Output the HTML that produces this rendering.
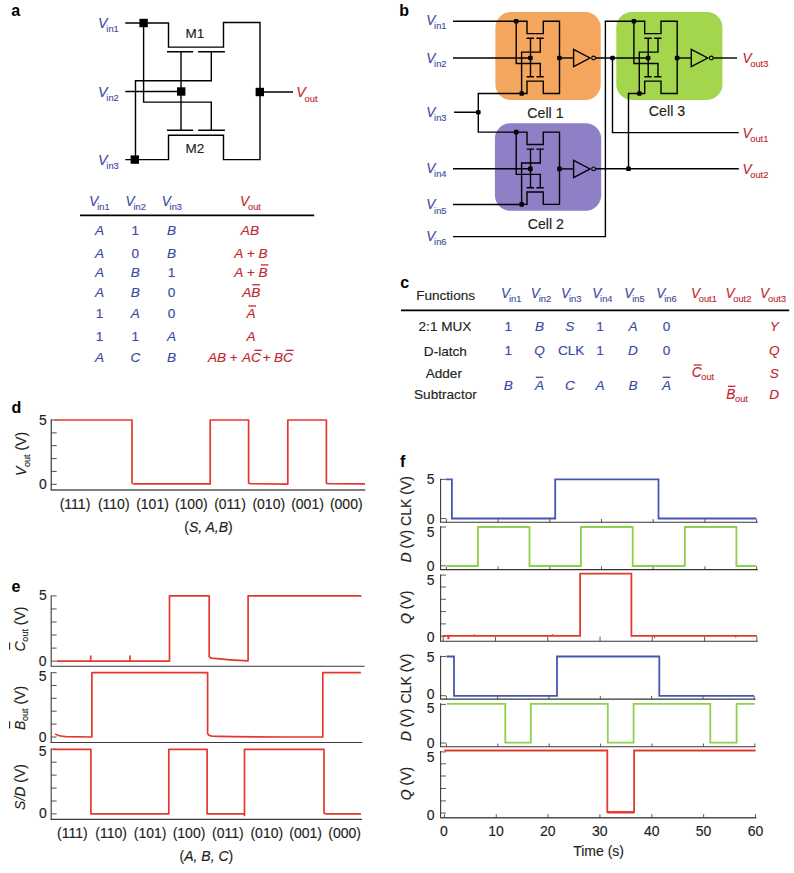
<!DOCTYPE html>
<html lang="en">
<head>
<meta charset="utf-8">
<title>Figure</title>
<style>
html,body{margin:0;padding:0;background:#fff;}
body{width:794px;height:873px;overflow:hidden;}
svg{display:block;font-family:"Liberation Sans",Arial,Helvetica,sans-serif;}
</style>
</head>
<body>
<svg width="794" height="873" viewBox="0 0 794 873">
<rect x="0" y="0" width="794" height="873" fill="#ffffff"/>
<text x="11.2" y="16.3" fill="#000" font-size="16" font-weight="bold">a</text>
<text x="399.3" y="15.6" fill="#000" font-size="16" font-weight="bold">b</text>
<text x="400.2" y="288.3" fill="#000" font-size="16" font-weight="bold">c</text>
<text x="11.4" y="413.2" fill="#000" font-size="16" font-weight="bold">d</text>
<text x="11.4" y="591.5" fill="#000" font-size="16" font-weight="bold">e</text>
<text x="400.0" y="467.2" fill="#000" font-size="16" font-weight="bold">f</text>
<path d="M125.3,23 H168.5 V47.1 H223.5 V22.5 H260 V159.6 H223.5 V135.2 H168.5 V159.6 H125.3" stroke="#000" stroke-width="1.4" fill="none"/>
<path d="M167,51.7 H193.2 M198.1,51.7 H224.9 M167,130.3 H193.2 M198.1,130.3 H224.9" stroke="#000" stroke-width="1.4" fill="none"/>
<path d="M181,51.7 V130.3" stroke="#000" stroke-width="1.4" fill="none"/>
<path d="M211.3,51.7 V80.7 H135.5 V159.6" stroke="#000" stroke-width="1.4" fill="none"/>
<path d="M143.6,23 V102.1 H211.3 V130.3" stroke="#000" stroke-width="1.4" fill="none"/>
<path d="M125.3,91.5 H181 M260,92 H293" stroke="#000" stroke-width="1.4" fill="none"/>
<rect x="139.40" y="18.80" width="8.4" height="8.4" fill="#000"/>
<rect x="177.00" y="87.30" width="8.4" height="8.4" fill="#000"/>
<rect x="130.60" y="155.40" width="8.4" height="8.4" fill="#000"/>
<rect x="255.60" y="87.80" width="8.4" height="8.4" fill="#000"/>
<text transform="translate(98.0,27.9) scale(0.92,1)" fill="#3b4a9f" stroke="#3b4a9f" stroke-width="0.15" font-size="15.48" font-style="italic">V</text>
<text x="106.30" y="32.20" fill="#3b4a9f" stroke="#3b4a9f" stroke-width="0.12" font-size="9.4">in1</text>
<text transform="translate(98.0,96.5) scale(0.92,1)" fill="#3b4a9f" stroke="#3b4a9f" stroke-width="0.15" font-size="15.48" font-style="italic">V</text>
<text x="106.30" y="100.80" fill="#3b4a9f" stroke="#3b4a9f" stroke-width="0.12" font-size="9.4">in2</text>
<text transform="translate(98.0,165.0) scale(0.92,1)" fill="#3b4a9f" stroke="#3b4a9f" stroke-width="0.15" font-size="15.48" font-style="italic">V</text>
<text x="106.30" y="169.30" fill="#3b4a9f" stroke="#3b4a9f" stroke-width="0.12" font-size="9.4">in3</text>
<text transform="translate(296.2,97.3) scale(0.92,1)" fill="#c1272d" stroke="#c1272d" stroke-width="0.15" font-size="15.48" font-style="italic">V</text>
<text x="304.50" y="101.60" fill="#c1272d" stroke="#c1272d" stroke-width="0.12" font-size="9.4">out</text>
<text x="194.9" y="37.6" fill="#231f20" stroke="#231f20" stroke-width="0.15" font-size="13.5" text-anchor="middle">M1</text>
<text x="194.9" y="152.9" fill="#231f20" stroke="#231f20" stroke-width="0.15" font-size="13.5" text-anchor="middle">M2</text>
<text transform="translate(89.3,206.1) scale(0.92,1)" fill="#3b4a9f" stroke="#3b4a9f" stroke-width="0.15" font-size="14.82" font-style="italic">V</text>
<text x="97.19" y="210.40" fill="#3b4a9f" stroke="#3b4a9f" stroke-width="0.12" font-size="9.3">in1</text>
<text transform="translate(125.6,206.1) scale(0.92,1)" fill="#3b4a9f" stroke="#3b4a9f" stroke-width="0.15" font-size="14.82" font-style="italic">V</text>
<text x="133.49" y="210.40" fill="#3b4a9f" stroke="#3b4a9f" stroke-width="0.12" font-size="9.3">in2</text>
<text transform="translate(161.7,206.1) scale(0.92,1)" fill="#3b4a9f" stroke="#3b4a9f" stroke-width="0.15" font-size="14.82" font-style="italic">V</text>
<text x="169.59" y="210.40" fill="#3b4a9f" stroke="#3b4a9f" stroke-width="0.12" font-size="9.3">in3</text>
<text transform="translate(240.1,206.1) scale(0.92,1)" fill="#c1272d" stroke="#c1272d" stroke-width="0.15" font-size="14.82" font-style="italic">V</text>
<text x="247.99" y="210.40" fill="#c1272d" stroke="#c1272d" stroke-width="0.12" font-size="9.3">out</text>
<path d="M80,215.3 H314.2" stroke="#000" stroke-width="1.7" fill="none"/>
<text x="99.6" y="235" fill="#3b4a9f" stroke="#3b4a9f" stroke-width="0.15" font-size="13.6" font-style="italic" text-anchor="middle">A</text>
<text x="135.4" y="235" fill="#3b4a9f" stroke="#3b4a9f" stroke-width="0.15" font-size="13.6" text-anchor="middle">1</text>
<text x="171.6" y="235" fill="#3b4a9f" stroke="#3b4a9f" stroke-width="0.15" font-size="13.6" font-style="italic" text-anchor="middle">B</text>
<text x="99.6" y="257.5" fill="#3b4a9f" stroke="#3b4a9f" stroke-width="0.15" font-size="13.6" font-style="italic" text-anchor="middle">A</text>
<text x="135.4" y="257.5" fill="#3b4a9f" stroke="#3b4a9f" stroke-width="0.15" font-size="13.6" text-anchor="middle">0</text>
<text x="171.6" y="257.5" fill="#3b4a9f" stroke="#3b4a9f" stroke-width="0.15" font-size="13.6" font-style="italic" text-anchor="middle">B</text>
<text x="99.6" y="277.1" fill="#3b4a9f" stroke="#3b4a9f" stroke-width="0.15" font-size="13.6" font-style="italic" text-anchor="middle">A</text>
<text x="135.4" y="277.1" fill="#3b4a9f" stroke="#3b4a9f" stroke-width="0.15" font-size="13.6" font-style="italic" text-anchor="middle">B</text>
<text x="171.6" y="277.1" fill="#3b4a9f" stroke="#3b4a9f" stroke-width="0.15" font-size="13.6" text-anchor="middle">1</text>
<text x="99.6" y="297" fill="#3b4a9f" stroke="#3b4a9f" stroke-width="0.15" font-size="13.6" font-style="italic" text-anchor="middle">A</text>
<text x="135.4" y="297" fill="#3b4a9f" stroke="#3b4a9f" stroke-width="0.15" font-size="13.6" font-style="italic" text-anchor="middle">B</text>
<text x="171.6" y="297" fill="#3b4a9f" stroke="#3b4a9f" stroke-width="0.15" font-size="13.6" text-anchor="middle">0</text>
<text x="99.6" y="317.6" fill="#3b4a9f" stroke="#3b4a9f" stroke-width="0.15" font-size="13.6" text-anchor="middle">1</text>
<text x="135.4" y="317.6" fill="#3b4a9f" stroke="#3b4a9f" stroke-width="0.15" font-size="13.6" font-style="italic" text-anchor="middle">A</text>
<text x="171.6" y="317.6" fill="#3b4a9f" stroke="#3b4a9f" stroke-width="0.15" font-size="13.6" text-anchor="middle">0</text>
<text x="99.6" y="341.1" fill="#3b4a9f" stroke="#3b4a9f" stroke-width="0.15" font-size="13.6" text-anchor="middle">1</text>
<text x="135.4" y="341.1" fill="#3b4a9f" stroke="#3b4a9f" stroke-width="0.15" font-size="13.6" text-anchor="middle">1</text>
<text x="171.6" y="341.1" fill="#3b4a9f" stroke="#3b4a9f" stroke-width="0.15" font-size="13.6" font-style="italic" text-anchor="middle">A</text>
<text x="99.6" y="362.1" fill="#3b4a9f" stroke="#3b4a9f" stroke-width="0.15" font-size="13.6" font-style="italic" text-anchor="middle">A</text>
<text x="135.4" y="362.1" fill="#3b4a9f" stroke="#3b4a9f" stroke-width="0.15" font-size="13.6" font-style="italic" text-anchor="middle">C</text>
<text x="171.6" y="362.1" fill="#3b4a9f" stroke="#3b4a9f" stroke-width="0.15" font-size="13.6" font-style="italic" text-anchor="middle">B</text>
<text x="249.9" y="235" fill="#c1272d" stroke="#c1272d" stroke-width="0.15" font-size="13.6" font-style="italic" text-anchor="middle">AB</text>
<text x="250.9" y="257.5" fill="#c1272d" stroke="#c1272d" stroke-width="0.15" font-size="13.6" font-style="italic" text-anchor="middle">A + B</text>
<text x="250.9" y="277.1" fill="#c1272d" stroke="#c1272d" stroke-width="0.15" font-size="13.6" font-style="italic" text-anchor="middle">A + B</text>
<path d="M260.9,264.9 H268.4" stroke="#c1272d" stroke-width="1.3" fill="none"/>
<text x="251.2" y="297" fill="#c1272d" stroke="#c1272d" stroke-width="0.15" font-size="13.6" font-style="italic" text-anchor="middle">AB</text>
<text x="251.1" y="317.6" fill="#c1272d" stroke="#c1272d" stroke-width="0.15" font-size="13.6" font-style="italic" text-anchor="middle">A</text>
<text x="251.0" y="341.1" fill="#c1272d" stroke="#c1272d" stroke-width="0.15" font-size="13.6" font-style="italic" text-anchor="middle">A</text>
<text y="362.1" fill="#c1272d" stroke="#c1272d" stroke-width="0.15" font-size="13.6" font-style="italic"><tspan x="207.9">AB</tspan><tspan x="229.6">+</tspan><tspan x="241.9">AC</tspan><tspan x="262.4">+</tspan><tspan x="274.0">BC</tspan></text>
<path d="M254.4,350.3 H261.9" stroke="#c1272d" stroke-width="1.3" fill="none"/>
<path d="M285.9,350.3 H293.6" stroke="#c1272d" stroke-width="1.3" fill="none"/>
<path d="M252.3,284.8 H260.0" stroke="#c1272d" stroke-width="1.3" fill="none"/>
<path d="M248.4,306.0 H255.9" stroke="#c1272d" stroke-width="1.3" fill="none"/>
<rect x="495.4" y="12.1" width="105.3" height="88.0" rx="15.5" ry="15.5" fill="#f5a65e"/>
<rect x="616.3" y="12.0" width="106.1" height="87.9" rx="15.5" ry="15.5" fill="#a3d54d"/>
<rect x="494.9" y="123.3" width="106.3" height="87.5" rx="15.5" ry="15.5" fill="#8f7fc6"/>
<g transform="translate(0,0)">
<path d="M516.2,21.2 H527 V33.6 H543.3 V21.2 H559.5 V93.5 H543.3 V81.1 H527 V93.5 H521.6" stroke="#000" stroke-width="1.4" fill="none"/>
<path d="M526.6,38.2 H534 M536.4,38.2 H543.8 M526.6,76.8 H534 M536.4,76.8 H543.8" stroke="#000" stroke-width="1.4" fill="none"/>
<path d="M530.5,38.2 V76.8" stroke="#000" stroke-width="1.4" fill="none"/>
<path d="M540.3,38.2 V52.1 H521.6 V93.5" stroke="#000" stroke-width="1.4" fill="none"/>
<path d="M516.2,21.2 V63.5 H540.3 V76.8" stroke="#000" stroke-width="1.4" fill="none"/>
<path d="M559.5,58 H573.6" stroke="#000" stroke-width="1.4" fill="none"/>
<path d="M573.6,49.4 V66.6 L590,58 Z" stroke="#000" stroke-width="1.4" fill="none"/>
<circle cx="593.6" cy="58" r="1.9" fill="none" stroke="#000" stroke-width="1.1"/>
<rect x="513.90" y="18.90" width="4.6" height="4.6" rx="1.2" fill="#000"/>
<rect x="528.10" y="55.70" width="4.6" height="4.6" rx="1.2" fill="#000"/>
<rect x="557.10" y="55.70" width="4.6" height="4.6" rx="1.2" fill="#000"/>
<rect x="519.40" y="91.20" width="4.6" height="4.6" rx="1.2" fill="#000"/>
</g>
<g transform="translate(117.7,0)">
<path d="M516.2,21.2 H527 V33.6 H543.3 V21.2 H559.5 V93.5 H543.3 V81.1 H527 V93.5 H521.6" stroke="#000" stroke-width="1.4" fill="none"/>
<path d="M526.6,38.2 H534 M536.4,38.2 H543.8 M526.6,76.8 H534 M536.4,76.8 H543.8" stroke="#000" stroke-width="1.4" fill="none"/>
<path d="M530.5,38.2 V76.8" stroke="#000" stroke-width="1.4" fill="none"/>
<path d="M540.3,38.2 V52.1 H521.6 V93.5" stroke="#000" stroke-width="1.4" fill="none"/>
<path d="M516.2,21.2 V63.5 H540.3 V76.8" stroke="#000" stroke-width="1.4" fill="none"/>
<path d="M559.5,58 H573.6" stroke="#000" stroke-width="1.4" fill="none"/>
<path d="M573.6,49.4 V66.6 L590,58 Z" stroke="#000" stroke-width="1.4" fill="none"/>
<circle cx="593.6" cy="58" r="1.9" fill="none" stroke="#000" stroke-width="1.1"/>
<rect x="513.90" y="18.90" width="4.6" height="4.6" rx="1.2" fill="#000"/>
<rect x="528.10" y="55.70" width="4.6" height="4.6" rx="1.2" fill="#000"/>
<rect x="557.10" y="55.70" width="4.6" height="4.6" rx="1.2" fill="#000"/>
<rect x="519.40" y="91.20" width="4.6" height="4.6" rx="1.2" fill="#000"/>
</g>
<g transform="translate(0,110.9)">
<path d="M516.2,21.2 H527 V33.6 H543.3 V21.2 H559.5 V93.5 H543.3 V81.1 H527 V93.5 H521.6" stroke="#000" stroke-width="1.4" fill="none"/>
<path d="M526.6,38.2 H534 M536.4,38.2 H543.8 M526.6,76.8 H534 M536.4,76.8 H543.8" stroke="#000" stroke-width="1.4" fill="none"/>
<path d="M530.5,38.2 V76.8" stroke="#000" stroke-width="1.4" fill="none"/>
<path d="M540.3,38.2 V52.1 H521.6 V93.5" stroke="#000" stroke-width="1.4" fill="none"/>
<path d="M516.2,21.2 V63.5 H540.3 V76.8" stroke="#000" stroke-width="1.4" fill="none"/>
<path d="M559.5,58 H573.6" stroke="#000" stroke-width="1.4" fill="none"/>
<path d="M573.6,49.4 V66.6 L590,58 Z" stroke="#000" stroke-width="1.4" fill="none"/>
<circle cx="593.6" cy="58" r="1.9" fill="none" stroke="#000" stroke-width="1.1"/>
<rect x="513.90" y="18.90" width="4.6" height="4.6" rx="1.2" fill="#000"/>
<rect x="528.10" y="55.70" width="4.6" height="4.6" rx="1.2" fill="#000"/>
<rect x="557.10" y="55.70" width="4.6" height="4.6" rx="1.2" fill="#000"/>
<rect x="519.40" y="91.20" width="4.6" height="4.6" rx="1.2" fill="#000"/>
</g>
<path d="M453,21.3 H516.2" stroke="#000" stroke-width="1.4" fill="none"/>
<path d="M453,58 H530.4" stroke="#000" stroke-width="1.4" fill="none"/>
<path d="M454,112.2 H478.3 M521.6,93.5 H478.3 V132.1 H516.2" stroke="#000" stroke-width="1.4" fill="none"/>
<path d="M453,168.8 H530.4" stroke="#000" stroke-width="1.4" fill="none"/>
<path d="M453,204.5 H521.6" stroke="#000" stroke-width="1.4" fill="none"/>
<path d="M453,236.6 H605.4 V21.3 H634" stroke="#000" stroke-width="1.4" fill="none"/>
<path d="M595.5,58 H648.1" stroke="#000" stroke-width="1.4" fill="none"/>
<path d="M612.5,58 V132.6 H738.8" stroke="#000" stroke-width="1.4" fill="none"/>
<path d="M595.5,168.8 H738.8" stroke="#000" stroke-width="1.4" fill="none"/>
<path d="M639.3,93.5 H628.5 V168.8" stroke="#000" stroke-width="1.4" fill="none"/>
<path d="M713.2,58 H737" stroke="#000" stroke-width="1.4" fill="none"/>
<rect x="476.00" y="109.90" width="4.6" height="4.6" rx="1.2" fill="#000"/>
<rect x="610.20" y="55.70" width="4.6" height="4.6" rx="1.2" fill="#000"/>
<rect x="626.20" y="166.50" width="4.6" height="4.6" rx="1.2" fill="#000"/>
<text transform="translate(426.2,24.8) scale(0.92,1)" fill="#3b4a9f" stroke="#3b4a9f" stroke-width="0.15" font-size="14.82" font-style="italic">V</text>
<text x="434.09" y="29.10" fill="#3b4a9f" stroke="#3b4a9f" stroke-width="0.12" font-size="9.3">in1</text>
<text transform="translate(426.2,62.6) scale(0.92,1)" fill="#3b4a9f" stroke="#3b4a9f" stroke-width="0.15" font-size="14.82" font-style="italic">V</text>
<text x="434.09" y="66.90" fill="#3b4a9f" stroke="#3b4a9f" stroke-width="0.12" font-size="9.3">in2</text>
<text transform="translate(426.2,116.8) scale(0.92,1)" fill="#3b4a9f" stroke="#3b4a9f" stroke-width="0.15" font-size="14.82" font-style="italic">V</text>
<text x="434.09" y="121.10" fill="#3b4a9f" stroke="#3b4a9f" stroke-width="0.12" font-size="9.3">in3</text>
<text transform="translate(426.2,172.8) scale(0.92,1)" fill="#3b4a9f" stroke="#3b4a9f" stroke-width="0.15" font-size="14.82" font-style="italic">V</text>
<text x="434.09" y="177.10" fill="#3b4a9f" stroke="#3b4a9f" stroke-width="0.12" font-size="9.3">in4</text>
<text transform="translate(426.2,209.2) scale(0.92,1)" fill="#3b4a9f" stroke="#3b4a9f" stroke-width="0.15" font-size="14.82" font-style="italic">V</text>
<text x="434.09" y="213.50" fill="#3b4a9f" stroke="#3b4a9f" stroke-width="0.12" font-size="9.3">in5</text>
<text transform="translate(426.2,240.8) scale(0.92,1)" fill="#3b4a9f" stroke="#3b4a9f" stroke-width="0.15" font-size="14.82" font-style="italic">V</text>
<text x="434.09" y="245.10" fill="#3b4a9f" stroke="#3b4a9f" stroke-width="0.12" font-size="9.3">in6</text>
<text transform="translate(742.4,63.0) scale(0.92,1)" fill="#c1272d" stroke="#c1272d" stroke-width="0.15" font-size="14.82" font-style="italic">V</text>
<text x="750.29" y="67.30" fill="#c1272d" stroke="#c1272d" stroke-width="0.12" font-size="9.3">out3</text>
<text transform="translate(742.4,137.6) scale(0.92,1)" fill="#c1272d" stroke="#c1272d" stroke-width="0.15" font-size="14.82" font-style="italic">V</text>
<text x="750.29" y="141.90" fill="#c1272d" stroke="#c1272d" stroke-width="0.12" font-size="9.3">out1</text>
<text transform="translate(742.4,173.6) scale(0.92,1)" fill="#c1272d" stroke="#c1272d" stroke-width="0.15" font-size="14.82" font-style="italic">V</text>
<text x="750.29" y="177.90" fill="#c1272d" stroke="#c1272d" stroke-width="0.12" font-size="9.3">out2</text>
<text x="545.4" y="117.8" fill="#231f20" stroke="#231f20" stroke-width="0.15" font-size="14.2" text-anchor="middle">Cell 1</text>
<text x="545.8" y="228.7" fill="#231f20" stroke="#231f20" stroke-width="0.15" font-size="14.2" text-anchor="middle">Cell 2</text>
<text x="667.0" y="115.9" fill="#231f20" stroke="#231f20" stroke-width="0.15" font-size="14.2" text-anchor="middle">Cell 3</text>
<text x="445.6" y="299.7" fill="#231f20" stroke="#231f20" stroke-width="0.15" font-size="13.6" text-anchor="middle">Functions</text>
<text transform="translate(501.1,297.7) scale(0.92,1)" fill="#3b4a9f" stroke="#3b4a9f" stroke-width="0.15" font-size="14.82" font-style="italic">V</text>
<text x="508.99" y="302.00" fill="#3b4a9f" stroke="#3b4a9f" stroke-width="0.12" font-size="9.3">in1</text>
<text transform="translate(530.8,297.7) scale(0.92,1)" fill="#3b4a9f" stroke="#3b4a9f" stroke-width="0.15" font-size="14.82" font-style="italic">V</text>
<text x="538.69" y="302.00" fill="#3b4a9f" stroke="#3b4a9f" stroke-width="0.12" font-size="9.3">in2</text>
<text transform="translate(561.1,297.7) scale(0.92,1)" fill="#3b4a9f" stroke="#3b4a9f" stroke-width="0.15" font-size="14.82" font-style="italic">V</text>
<text x="568.99" y="302.00" fill="#3b4a9f" stroke="#3b4a9f" stroke-width="0.12" font-size="9.3">in3</text>
<text transform="translate(592.2,297.7) scale(0.92,1)" fill="#3b4a9f" stroke="#3b4a9f" stroke-width="0.15" font-size="14.82" font-style="italic">V</text>
<text x="600.09" y="302.00" fill="#3b4a9f" stroke="#3b4a9f" stroke-width="0.12" font-size="9.3">in4</text>
<text transform="translate(624.3,297.7) scale(0.92,1)" fill="#3b4a9f" stroke="#3b4a9f" stroke-width="0.15" font-size="14.82" font-style="italic">V</text>
<text x="632.19" y="302.00" fill="#3b4a9f" stroke="#3b4a9f" stroke-width="0.12" font-size="9.3">in5</text>
<text transform="translate(656.3,297.7) scale(0.92,1)" fill="#3b4a9f" stroke="#3b4a9f" stroke-width="0.15" font-size="14.82" font-style="italic">V</text>
<text x="664.19" y="302.00" fill="#3b4a9f" stroke="#3b4a9f" stroke-width="0.12" font-size="9.3">in6</text>
<text transform="translate(690.9,297.7) scale(0.92,1)" fill="#c1272d" stroke="#c1272d" stroke-width="0.15" font-size="14.82" font-style="italic">V</text>
<text x="698.79" y="302.00" fill="#c1272d" stroke="#c1272d" stroke-width="0.12" font-size="9.3">out1</text>
<text transform="translate(725.4,297.7) scale(0.92,1)" fill="#c1272d" stroke="#c1272d" stroke-width="0.15" font-size="14.82" font-style="italic">V</text>
<text x="733.29" y="302.00" fill="#c1272d" stroke="#c1272d" stroke-width="0.12" font-size="9.3">out2</text>
<text transform="translate(760.1,297.7) scale(0.92,1)" fill="#c1272d" stroke="#c1272d" stroke-width="0.15" font-size="14.82" font-style="italic">V</text>
<text x="767.99" y="302.00" fill="#c1272d" stroke="#c1272d" stroke-width="0.12" font-size="9.3">out3</text>
<path d="M401,310.3 H789.2" stroke="#000" stroke-width="1.7" fill="none"/>
<text x="445.0" y="331.2" fill="#231f20" stroke="#231f20" stroke-width="0.15" font-size="13.6" text-anchor="middle">2:1 MUX</text>
<text x="445.4" y="355.6" fill="#231f20" stroke="#231f20" stroke-width="0.15" font-size="13.6" text-anchor="middle">D-latch</text>
<text x="443.8" y="377.8" fill="#231f20" stroke="#231f20" stroke-width="0.15" font-size="13.6" text-anchor="middle">Adder</text>
<text x="445.4" y="399.0" fill="#231f20" stroke="#231f20" stroke-width="0.15" font-size="13.6" text-anchor="middle">Subtractor</text>
<text x="508.2" y="331.0" fill="#3b4a9f" stroke="#3b4a9f" stroke-width="0.15" font-size="13.6" text-anchor="middle">1</text>
<text x="539.6" y="331.0" fill="#3b4a9f" stroke="#3b4a9f" stroke-width="0.15" font-size="13.6" font-style="italic" text-anchor="middle">B</text>
<text x="569.8" y="331.0" fill="#3b4a9f" stroke="#3b4a9f" stroke-width="0.15" font-size="13.6" font-style="italic" text-anchor="middle">S</text>
<text x="600.0" y="331.0" fill="#3b4a9f" stroke="#3b4a9f" stroke-width="0.15" font-size="13.6" text-anchor="middle">1</text>
<text x="633.0" y="331.0" fill="#3b4a9f" stroke="#3b4a9f" stroke-width="0.15" font-size="13.6" font-style="italic" text-anchor="middle">A</text>
<text x="666.6" y="331.0" fill="#3b4a9f" stroke="#3b4a9f" stroke-width="0.15" font-size="13.6" text-anchor="middle">0</text>
<text x="508.2" y="355.3" fill="#3b4a9f" stroke="#3b4a9f" stroke-width="0.15" font-size="13.6" text-anchor="middle">1</text>
<text x="539.6" y="355.3" fill="#3b4a9f" stroke="#3b4a9f" stroke-width="0.15" font-size="13.6" font-style="italic" text-anchor="middle">Q</text>
<text x="571.2" y="355.3" fill="#3b4a9f" stroke="#3b4a9f" stroke-width="0.15" font-size="13.6" text-anchor="middle">CLK</text>
<text x="600.0" y="355.3" fill="#3b4a9f" stroke="#3b4a9f" stroke-width="0.15" font-size="13.6" text-anchor="middle">1</text>
<text x="633.0" y="355.3" fill="#3b4a9f" stroke="#3b4a9f" stroke-width="0.15" font-size="13.6" font-style="italic" text-anchor="middle">D</text>
<text x="666.6" y="355.3" fill="#3b4a9f" stroke="#3b4a9f" stroke-width="0.15" font-size="13.6" text-anchor="middle">0</text>
<text x="508.2" y="389.6" fill="#3b4a9f" stroke="#3b4a9f" stroke-width="0.15" font-size="13.6" font-style="italic" text-anchor="middle">B</text>
<text x="539.6" y="389.6" fill="#3b4a9f" stroke="#3b4a9f" stroke-width="0.15" font-size="13.6" font-style="italic" text-anchor="middle">A</text>
<text x="569.8" y="389.6" fill="#3b4a9f" stroke="#3b4a9f" stroke-width="0.15" font-size="13.6" font-style="italic" text-anchor="middle">C</text>
<text x="600.0" y="389.6" fill="#3b4a9f" stroke="#3b4a9f" stroke-width="0.15" font-size="13.6" font-style="italic" text-anchor="middle">A</text>
<text x="633.0" y="389.6" fill="#3b4a9f" stroke="#3b4a9f" stroke-width="0.15" font-size="13.6" font-style="italic" text-anchor="middle">B</text>
<text x="666.6" y="389.6" fill="#3b4a9f" stroke="#3b4a9f" stroke-width="0.15" font-size="13.6" font-style="italic" text-anchor="middle">A</text>
<path d="M535.8,377.3 H543.4" stroke="#3b4a9f" stroke-width="1.3" fill="none"/>
<path d="M662.8,377.3 H670.4" stroke="#3b4a9f" stroke-width="1.3" fill="none"/>
<text x="774.2" y="330.6" fill="#c1272d" stroke="#c1272d" stroke-width="0.15" font-size="13.6" font-style="italic" text-anchor="middle">Y</text>
<text x="774.2" y="354.6" fill="#c1272d" stroke="#c1272d" stroke-width="0.15" font-size="13.6" font-style="italic" text-anchor="middle">Q</text>
<text x="774.2" y="378.3" fill="#c1272d" stroke="#c1272d" stroke-width="0.15" font-size="13.6" font-style="italic" text-anchor="middle">S</text>
<text x="774.2" y="399.0" fill="#c1272d" stroke="#c1272d" stroke-width="0.15" font-size="13.6" font-style="italic" text-anchor="middle">D</text>
<text transform="translate(691.7,377.0) scale(0.92,1)" fill="#c1272d" stroke="#c1272d" stroke-width="0.15" font-size="14.82" font-style="italic">C</text>
<text x="701.24" y="380.40" fill="#c1272d" stroke="#c1272d" stroke-width="0.12" font-size="9.3">out</text>
<path d="M693.6,365.0 H701.6" stroke="#c1272d" stroke-width="1.3" fill="none"/>
<text transform="translate(726.2,398.5) scale(0.92,1)" fill="#c1272d" stroke="#c1272d" stroke-width="0.15" font-size="14.82" font-style="italic">B</text>
<text x="734.99" y="401.90" fill="#c1272d" stroke="#c1272d" stroke-width="0.12" font-size="9.3">out</text>
<path d="M728.0,386.3 H735.4" stroke="#c1272d" stroke-width="1.3" fill="none"/>
<path d="M51.3,419.2 V490.0" stroke="#555555" stroke-width="1.4" fill="none"/>
<path d="M51.3,420.0 h5.4 M51.3,432.9 h5.4 M51.3,445.7 h5.4 M51.3,458.6 h5.4 M51.3,471.4 h5.4 M51.3,484.3 h5.4" stroke="#333333" stroke-width="0.9" fill="none"/>
<path d="M50.599999999999994,490.0 H365.2" stroke="#555555" stroke-width="1.4" fill="none"/>
<text x="46.8" y="425.2" fill="#231f20" stroke="#231f20" stroke-width="0.15" font-size="14.0" text-anchor="end">5</text>
<text x="46.8" y="488.7" fill="#231f20" stroke="#231f20" stroke-width="0.15" font-size="14.0" text-anchor="end">0</text>
<path d="M54.9,420.0 H132.0 V482.9 Q132.2,483.7 134,483.9 H210.2 V420.0 H248.6 V482.9 Q248.8,483.59999999999997 251,483.7 L287.8,484.2 V420.0 H326.4 V482.9 Q326.6,483.59999999999997 329,483.7 L365,483.9" stroke="#e3382e" stroke-width="1.7" fill="none" stroke-linejoin="round"/>
<text x="75.0" y="509.0" fill="#231f20" stroke="#231f20" stroke-width="0.15" font-size="14.0" text-anchor="middle">(111)</text>
<text x="113.75" y="509.0" fill="#231f20" stroke="#231f20" stroke-width="0.15" font-size="14.0" text-anchor="middle">(110)</text>
<text x="152.5" y="509.0" fill="#231f20" stroke="#231f20" stroke-width="0.15" font-size="14.0" text-anchor="middle">(101)</text>
<text x="191.25" y="509.0" fill="#231f20" stroke="#231f20" stroke-width="0.15" font-size="14.0" text-anchor="middle">(100)</text>
<text x="230.0" y="509.0" fill="#231f20" stroke="#231f20" stroke-width="0.15" font-size="14.0" text-anchor="middle">(011)</text>
<text x="268.75" y="509.0" fill="#231f20" stroke="#231f20" stroke-width="0.15" font-size="14.0" text-anchor="middle">(010)</text>
<text x="307.5" y="509.0" fill="#231f20" stroke="#231f20" stroke-width="0.15" font-size="14.0" text-anchor="middle">(001)</text>
<text x="346.25" y="509.0" fill="#231f20" stroke="#231f20" stroke-width="0.15" font-size="14.0" text-anchor="middle">(000)</text>
<text x="208.5" y="531.8" fill="#231f20" stroke="#231f20" stroke-width="0.15" font-size="14.0" text-anchor="middle">(<tspan font-style="italic">S, A,B</tspan>)</text>
<text transform="translate(26.4,454.0) rotate(-90)" fill="#231f20" stroke="#231f20" stroke-width="0.15" font-size="14.0" text-anchor="middle"><tspan font-style="italic">V</tspan><tspan font-style="normal" font-size="9" dx="-0.3" dy="3.2">out</tspan><tspan dy="-3.2"> (V)</tspan></text>
<path d="M51.2,595.4 V666.3" stroke="#3a3a3a" stroke-width="1.1" fill="none"/>
<path d="M51.2,595.9 h5.4 M51.2,608.95 h5.4 M51.2,622.0 h5.4 M51.2,635.0 h5.4 M51.2,648.1 h5.4 M51.2,661.1 h5.4" stroke="#333333" stroke-width="0.85" fill="none"/>
<path d="M50.650000000000006,666.3 H364.5" stroke="#3a3a3a" stroke-width="1.1" fill="none"/>
<text x="46.8" y="600.4" fill="#231f20" stroke="#231f20" stroke-width="0.15" font-size="14.0" text-anchor="end">5</text>
<text x="46.6" y="666.0" fill="#231f20" stroke="#231f20" stroke-width="0.15" font-size="14.0" text-anchor="end">0</text>
<path d="M56.7,661.1 H90.7 V656.1 V661.1 H130 V656.1 V661.1 H169.5 V595.9 H209.2 V656.5 Q209.4,657.6 212,658.2 Q230,660.4 248.1,660.9 V595.9 H361.4" stroke="#e3382e" stroke-width="1.7" fill="none" stroke-linejoin="round"/>
<text transform="translate(25.2,629.0) rotate(-90)" fill="#231f20" stroke="#231f20" stroke-width="0.15" font-size="14.0" text-anchor="middle"><tspan font-style="italic">C</tspan><tspan font-style="normal" font-size="9" dx="-0.3" dy="3.2">out</tspan><tspan dy="-3.2"> (V)</tspan></text>
<path d="M9.6,642.4 V649.8" stroke="#231f20" stroke-width="1.1" fill="none"/>
<path d="M51.2,672.2 V742.5" stroke="#3a3a3a" stroke-width="1.1" fill="none"/>
<path d="M51.2,672.7 h5.4 M51.2,685.5 h5.4 M51.2,698.3 h5.4 M51.2,711.2 h5.4 M51.2,724.1 h5.4 M51.2,737.0 h5.4" stroke="#333333" stroke-width="0.85" fill="none"/>
<path d="M50.650000000000006,742.5 H362.3" stroke="#3a3a3a" stroke-width="1.1" fill="none"/>
<text x="46.6" y="680.7" fill="#231f20" stroke="#231f20" stroke-width="0.15" font-size="14.0" text-anchor="end">5</text>
<text x="46.6" y="742.0" fill="#231f20" stroke="#231f20" stroke-width="0.15" font-size="14.0" text-anchor="end">0</text>
<path d="M55.2,733.9 Q58,736.2 66,736.7 L91.9,737.0 V672.7 H207.6 V733 Q207.8,735.6 212,736.2 Q230,736.9 322.8,737.0 V672.7 H360.9" stroke="#e3382e" stroke-width="1.7" fill="none" stroke-linejoin="round"/>
<text transform="translate(25.2,708.0) rotate(-90)" fill="#231f20" stroke="#231f20" stroke-width="0.15" font-size="14.0" text-anchor="middle"><tspan font-style="italic">B</tspan><tspan font-style="normal" font-size="9" dx="-0.3" dy="3.2">out</tspan><tspan dy="-3.2"> (V)</tspan></text>
<path d="M9.6,721.2 V728.6" stroke="#231f20" stroke-width="1.1" fill="none"/>
<path d="M51.2,748.4 V819.4" stroke="#3a3a3a" stroke-width="1.1" fill="none"/>
<path d="M51.2,749.2 h5.4 M51.2,762.2 h5.4 M51.2,775.1 h5.4 M51.2,788.1 h5.4 M51.2,801.0 h5.4 M51.2,813.9 h5.4" stroke="#333333" stroke-width="0.85" fill="none"/>
<path d="M50.650000000000006,819.4 H362.0" stroke="#3a3a3a" stroke-width="1.1" fill="none"/>
<text x="46.6" y="755.6" fill="#231f20" stroke="#231f20" stroke-width="0.15" font-size="14.0" text-anchor="end">5</text>
<text x="46.8" y="818.2" fill="#231f20" stroke="#231f20" stroke-width="0.15" font-size="14.0" text-anchor="end">0</text>
<path d="M52.6,749.3 H90.9 V813.8 H168.8 V749.3 H207.1 V813.8 H244.5 V815.5 V749.3 H324 V812.3 Q324.2,813.8 326,813.8 H360.9" stroke="#e3382e" stroke-width="1.7" fill="none" stroke-linejoin="round"/>
<text transform="translate(25.2,787.0) rotate(-90)" fill="#231f20" stroke="#231f20" stroke-width="0.15" font-size="14.0" text-anchor="middle"><tspan font-style="italic">S/D</tspan> (V)</text>
<text x="72.3" y="837.7" fill="#231f20" stroke="#231f20" stroke-width="0.15" font-size="14.0" text-anchor="middle">(111)</text>
<text x="111.19999999999999" y="837.7" fill="#231f20" stroke="#231f20" stroke-width="0.15" font-size="14.0" text-anchor="middle">(110)</text>
<text x="150.1" y="837.7" fill="#231f20" stroke="#231f20" stroke-width="0.15" font-size="14.0" text-anchor="middle">(101)</text>
<text x="189.0" y="837.7" fill="#231f20" stroke="#231f20" stroke-width="0.15" font-size="14.0" text-anchor="middle">(100)</text>
<text x="227.89999999999998" y="837.7" fill="#231f20" stroke="#231f20" stroke-width="0.15" font-size="14.0" text-anchor="middle">(011)</text>
<text x="266.8" y="837.7" fill="#231f20" stroke="#231f20" stroke-width="0.15" font-size="14.0" text-anchor="middle">(010)</text>
<text x="305.7" y="837.7" fill="#231f20" stroke="#231f20" stroke-width="0.15" font-size="14.0" text-anchor="middle">(001)</text>
<text x="344.6" y="837.7" fill="#231f20" stroke="#231f20" stroke-width="0.15" font-size="14.0" text-anchor="middle">(000)</text>
<text x="206.4" y="860.7" fill="#231f20" stroke="#231f20" stroke-width="0.15" font-size="14.0" text-anchor="middle">(<tspan font-style="italic">A, B, C</tspan>)</text>
<path d="M440.6,478.7 V522.2" stroke="#333333" stroke-width="1.05" fill="none"/>
<path d="M440.6,479.4 h5.4 M440.6,518.5 h5.4" stroke="#333333" stroke-width="0.8" fill="none"/>
<path d="M440.07500000000005,522.2 H757.7" stroke="#333333" stroke-width="1.05" fill="none"/>
<path d="M446.4,522.2 v-3.2 M498.09999999999997,522.2 v-3.2 M549.8,522.2 v-3.2 M601.5,522.2 v-3.2 M653.2,522.2 v-3.2 M704.9,522.2 v-3.2 M756.6,522.2 v-3.2" stroke="#333333" stroke-width="0.8" fill="none"/>
<text x="434.6" y="484.0" fill="#231f20" stroke="#231f20" stroke-width="0.15" font-size="14.0" text-anchor="end">5</text>
<text x="434.6" y="523.5" fill="#231f20" stroke="#231f20" stroke-width="0.15" font-size="14.0" text-anchor="end">0</text>
<path d="M446.1,479.4 H451.9 V518.5 H555.2 V479.4 H658.5 V518.5 H756.3" stroke="#4557b3" stroke-width="1.8" fill="none"/>
<text transform="translate(410.8,501.0) rotate(-90)" fill="#231f20" stroke="#231f20" stroke-width="0.15" font-size="14.0" text-anchor="middle">CLK (V)</text>
<path d="M440.6,526.2 V569.6" stroke="#333333" stroke-width="1.05" fill="none"/>
<path d="M440.6,527.0 h5.4 M440.6,565.8 h5.4" stroke="#333333" stroke-width="0.8" fill="none"/>
<path d="M440.07500000000005,569.6 H757.7" stroke="#333333" stroke-width="1.05" fill="none"/>
<path d="M446.4,569.6 v-3.2 M498.09999999999997,569.6 v-3.2 M549.8,569.6 v-3.2 M601.5,569.6 v-3.2 M653.2,569.6 v-3.2 M704.9,569.6 v-3.2 M756.6,569.6 v-3.2" stroke="#333333" stroke-width="0.8" fill="none"/>
<text x="434.6" y="537.0" fill="#231f20" stroke="#231f20" stroke-width="0.15" font-size="14.0" text-anchor="end">5</text>
<text x="434.6" y="570.9" fill="#231f20" stroke="#231f20" stroke-width="0.15" font-size="14.0" text-anchor="end">0</text>
<path d="M446.9,566.0 H477.9 V527.0 H529.5 V566.0 H580.9 V527.0 H632.7 V566.0 H684.8 V527.0 H736.4 V566.0 H756.3" stroke="#8bd14c" stroke-width="1.8" fill="none"/>
<text transform="translate(410.8,546.2) rotate(-90)" fill="#231f20" stroke="#231f20" stroke-width="0.15" font-size="14.0" text-anchor="middle"><tspan font-style="italic">D</tspan> (V)</text>
<path d="M440.6,574.4 V641.1" stroke="#333333" stroke-width="1.05" fill="none"/>
<path d="M440.6,575.1 h5.4 M440.6,587.0 h5.4 M440.6,599.3 h5.4 M440.6,611.6 h5.4 M440.6,623.9 h5.4 M440.6,636.2 h5.4" stroke="#333333" stroke-width="0.8" fill="none"/>
<path d="M440.07500000000005,641.2 H757.7" stroke="#333333" stroke-width="1.05" fill="none"/>
<path d="M443.2,641.2 v-4.6 M495.48,641.2 v-4.6 M547.76,641.2 v-4.6 M600.04,641.2 v-4.6 M652.3199999999999,641.2 v-4.6 M704.5999999999999,641.2 v-4.6 M756.88,641.2 v-4.6" stroke="#333333" stroke-width="0.8" fill="none"/>
<text x="434.6" y="585.2" fill="#231f20" stroke="#231f20" stroke-width="0.15" font-size="14.0" text-anchor="end">5</text>
<text x="434.6" y="641.9" fill="#231f20" stroke="#231f20" stroke-width="0.15" font-size="14.0" text-anchor="end">0</text>
<path d="M442.6,635.8 H580.1 V573.6 H631.4 V635.8 H756.9" stroke="#e3382e" stroke-width="1.8" fill="none"/>
<path d="M448.4,635.8 V639.2" stroke="#e3382e" stroke-width="2.0" fill="none"/>
<path d="M474.4,636 V634.2 M552.8,636 V634.0 M654.6,636 V638.4 M735.8,636 V637.8" stroke="#e3382e" stroke-width="1.0" fill="none"/>
<text transform="translate(410.8,607.2) rotate(-90)" fill="#231f20" stroke="#231f20" stroke-width="0.15" font-size="14.0" text-anchor="middle"><tspan font-style="italic">Q</tspan> (V)</text>
<path d="M440.6,655.7 V699.1" stroke="#333333" stroke-width="1.05" fill="none"/>
<path d="M440.6,656.5 h5.4 M440.6,695.7 h5.4" stroke="#333333" stroke-width="0.8" fill="none"/>
<path d="M440.07500000000005,699.1 H755.5" stroke="#333333" stroke-width="1.05" fill="none"/>
<path d="M446.4,699.1 v-3.2 M497.7,699.1 v-3.2 M549.0,699.1 v-3.2 M600.3,699.1 v-3.2 M651.5999999999999,699.1 v-3.2 M702.9,699.1 v-3.2 M754.1999999999999,699.1 v-3.2" stroke="#333333" stroke-width="0.8" fill="none"/>
<text x="434.6" y="662.0" fill="#231f20" stroke="#231f20" stroke-width="0.15" font-size="14.0" text-anchor="end">5</text>
<text x="434.6" y="698.9" fill="#231f20" stroke="#231f20" stroke-width="0.15" font-size="14.0" text-anchor="end">0</text>
<path d="M446.4,656.5 H454.0 V695.8 H557.0 V656.5 H659.3 V695.8 H754.1" stroke="#4557b3" stroke-width="1.8" fill="none"/>
<text transform="translate(410.8,678.6) rotate(-90)" fill="#231f20" stroke="#231f20" stroke-width="0.15" font-size="14.0" text-anchor="middle">CLK (V)</text>
<path d="M440.6,703.2 V746.7" stroke="#333333" stroke-width="1.05" fill="none"/>
<path d="M440.6,704.4 h5.4 M440.6,743.0 h5.4" stroke="#333333" stroke-width="0.8" fill="none"/>
<path d="M440.07500000000005,746.7 H755.5" stroke="#333333" stroke-width="1.05" fill="none"/>
<path d="M446.4,746.7 v-3.2 M497.79999999999995,746.7 v-3.2 M549.1999999999999,746.7 v-3.2 M600.5999999999999,746.7 v-3.2 M652.0,746.7 v-3.2 M703.4,746.7 v-3.2 M754.8,746.7 v-3.2" stroke="#333333" stroke-width="0.8" fill="none"/>
<text x="434.6" y="712.7" fill="#231f20" stroke="#231f20" stroke-width="0.15" font-size="14.0" text-anchor="end">5</text>
<text x="434.6" y="747.5" fill="#231f20" stroke="#231f20" stroke-width="0.15" font-size="14.0" text-anchor="end">0</text>
<path d="M446.9,703.8 H505.3 V742.6 H530.8 V703.8 H607.8 V742.6 H633.6 V703.8 H710.3 V742.6 H736.6 V703.8 H754.7" stroke="#8bd14c" stroke-width="1.8" fill="none"/>
<text transform="translate(410.8,724.8) rotate(-90)" fill="#231f20" stroke="#231f20" stroke-width="0.15" font-size="14.0" text-anchor="middle"><tspan font-style="italic">D</tspan> (V)</text>
<path d="M440.6,751.1 V817.8" stroke="#333333" stroke-width="1.05" fill="none"/>
<path d="M440.6,751.9 h5.4 M440.6,763.8 h5.4 M440.6,776.0 h5.4 M440.6,788.5 h5.4 M440.6,800.9 h5.4 M440.6,813.0 h5.4" stroke="#333333" stroke-width="0.8" fill="none"/>
<path d="M440.1,817.7 H756.3" stroke="#4d4d4d" stroke-width="1.5" fill="none"/>
<path d="M444.4,817.7 v-3.6 M496.25,817.7 v-3.6 M548.1,817.7 v-3.6 M599.95,817.7 v-3.6 M651.8,817.7 v-3.6 M703.65,817.7 v-3.6 M755.5,817.7 v-3.6" stroke="#333333" stroke-width="0.8" fill="none"/>
<text x="434.6" y="762.2" fill="#231f20" stroke="#231f20" stroke-width="0.15" font-size="14.0" text-anchor="end">5</text>
<text x="434.6" y="819.9" fill="#231f20" stroke="#231f20" stroke-width="0.15" font-size="14.0" text-anchor="end">0</text>
<path d="M444.4,750.5 H607.3 V812.2 H634.1 V750.5 H755.5" stroke="#e3382e" stroke-width="1.8" fill="none"/>
<path d="M607.6,812.4 H633.8" stroke="#e3382e" stroke-width="2.2" fill="none"/>
<text transform="translate(410.8,783.5) rotate(-90)" fill="#231f20" stroke="#231f20" stroke-width="0.15" font-size="14.0" text-anchor="middle"><tspan font-style="italic">Q</tspan> (V)</text>
<text x="444.0" y="835.9" fill="#231f20" stroke="#231f20" stroke-width="0.15" font-size="14.0" text-anchor="middle">0</text>
<text x="495.92" y="835.9" fill="#231f20" stroke="#231f20" stroke-width="0.15" font-size="14.0" text-anchor="middle">10</text>
<text x="547.84" y="835.9" fill="#231f20" stroke="#231f20" stroke-width="0.15" font-size="14.0" text-anchor="middle">20</text>
<text x="599.76" y="835.9" fill="#231f20" stroke="#231f20" stroke-width="0.15" font-size="14.0" text-anchor="middle">30</text>
<text x="651.6800000000001" y="835.9" fill="#231f20" stroke="#231f20" stroke-width="0.15" font-size="14.0" text-anchor="middle">40</text>
<text x="703.6" y="835.9" fill="#231f20" stroke="#231f20" stroke-width="0.15" font-size="14.0" text-anchor="middle">50</text>
<text x="755.52" y="835.9" fill="#231f20" stroke="#231f20" stroke-width="0.15" font-size="14.0" text-anchor="middle">60</text>
<text x="598.6" y="856.0" fill="#231f20" stroke="#231f20" stroke-width="0.15" font-size="14.0" text-anchor="middle">Time (s)</text>
</svg>
</body>
</html>
